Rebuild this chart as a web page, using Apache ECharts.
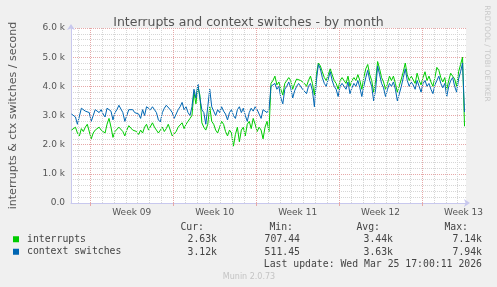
<!DOCTYPE html>
<html><head><meta charset="utf-8">
<script src="https://cdn.jsdelivr.net/npm/echarts@6/dist/echarts.min.js"></script>
<style>html,body{margin:0;padding:0;background:#f0f0f0;}#c{width:497px;height:287px;}</style>
</head><body><div id="c"></div>
<script>
const titleText = 'Interrupts and context switches - by month';
const yAxisName = 'interrupts & ctx switches / second';
const seriesNames = ['interrupts', 'context switches'];
const seriesColors = ['#00cc00', '#0066b3'];
const weekLabels = ['Week 09', 'Week 10', 'Week 11', 'Week 12', 'Week 13'];
const weekLabelHours = [84, 252, 420, 588, 756];
const weekStartHours = [0, 168, 336, 504, 672];
const startHour = -38, stepHours = 4;
const xMin = -39, xMax = 761;

const interruptsK = [
  2.5, 2.45, 2.6, 2.4, 2.3, 2.55,
  2.45, 2.6, 2.7, 2.65, 2.2, 2.4,
  2.5, 2.45, 2.6, 2.5, 2.55, 2.4,
  2.7, 2.9, 2.6, 2.25, 2.45, 2.5,
  2.6, 2.55, 2.45, 2.3, 2.5, 2.65,
  2.6, 2.5, 2.55, 2.45, 2.35, 2.5,
  2.4, 2.6, 2.7, 2.5, 2.55, 2.75,
  2.6, 2.5, 2.4, 2.5, 2.6, 2.45,
  2.55, 2.7, 2.5, 2.3, 2.25, 2.45,
  2.6, 2.65, 2.75, 2.55, 2.7, 2.8,
  2.9, 3.0, 3.8, 3.4, 4.0, 3.7,
  2.75, 2.6, 2.5, 2.7, 3.3, 2.8,
  2.7, 2.5, 2.4, 2.6, 2.8, 2.7,
  2.45, 2.3, 2.5, 2.4, 1.95, 2.35,
  2.6, 2.1, 2.5, 2.6, 2.3, 2.7,
  2.8, 2.55, 2.9, 2.7, 2.45, 2.6,
  2.5, 2.2, 2.6, 2.8, 2.45, 4.1,
  4.2, 4.35, 4.05, 4.15, 3.9, 3.7,
  4.1, 4.2, 4.3, 4.2, 3.9, 4.1,
  4.25, 4.3, 4.2, 4.15, 4.1, 4.0,
  4.2, 4.35, 4.1, 3.7, 4.4, 4.8,
  4.7, 4.5, 4.3, 4.2, 4.4, 4.6,
  4.4, 4.2, 4.1, 3.9, 4.2, 4.3,
  4.2, 4.1, 4.35, 4.0, 4.2, 4.3,
  4.2, 4.4, 4.2, 3.9, 4.3, 4.6,
  4.75, 4.4, 4.2, 3.8, 4.2, 4.85,
  4.6, 4.3, 4.15, 3.9, 4.1, 4.35,
  4.2, 4.35, 4.1, 3.8, 3.8, 4.25,
  4.5, 4.8, 4.4, 4.2, 4.35, 4.3,
  4.1, 4.45, 4.2, 4.05, 4.3, 4.5,
  4.2, 4.35, 4.15, 4.0, 4.3, 4.65,
  4.55, 4.3, 4.15, 4.3, 3.9, 4.2,
  4.45, 4.5, 4.25, 4.0, 4.5, 4.75,
  5.0, 2.63
];
const ctxSwitchesK = [
  3.05, 3.0, 2.95, 2.7, 2.75, 3.25,
  3.3, 3.15, 3.2, 3.1, 2.8, 3.0,
  3.2, 3.15, 3.1, 3.2, 3.05, 2.95,
  3.25, 3.3, 3.15, 2.85, 3.1, 3.2,
  3.35, 3.4, 3.1, 2.8, 3.0, 3.2,
  3.15, 3.2, 3.1, 3.15, 3.05, 2.9,
  3.2, 3.0, 3.3, 3.25, 3.2, 3.3,
  3.2, 3.1, 2.85, 2.78, 3.1, 3.25,
  3.35, 3.3, 3.2, 3.1, 2.9, 3.05,
  3.2, 3.3, 3.45, 3.2, 3.3, 3.1,
  3.0, 3.3, 3.9, 3.6, 4.08, 3.6,
  3.2, 3.1, 2.7, 3.3, 3.9, 3.3,
  3.15, 3.0, 3.2, 3.1, 3.3, 3.15,
  3.05, 2.85, 3.1, 3.2, 3.0, 2.9,
  3.2, 3.3, 3.1, 3.25, 3.0, 2.8,
  3.1, 3.25, 3.15, 3.3, 3.2, 3.05,
  2.9, 3.2, 3.25, 3.1, 3.2, 4.0,
  3.95, 4.1, 3.9, 4.0, 3.6, 3.4,
  3.9, 4.0, 4.15, 3.95, 3.6, 3.85,
  4.0, 4.1, 4.05, 3.9, 3.85, 3.75,
  4.0, 4.1, 3.85, 3.3, 4.2, 4.75,
  4.6, 4.3, 4.1, 4.0, 4.25, 4.5,
  4.2, 4.0, 3.9, 3.65, 4.0, 4.1,
  4.05, 3.9, 4.15, 3.75, 3.95, 4.1,
  4.0, 4.2, 3.95, 3.65, 4.0, 4.3,
  4.55, 4.2, 4.0, 3.5, 3.9, 4.7,
  4.4, 4.1, 3.95, 3.65, 3.9, 4.1,
  4.0, 4.15, 3.9, 3.5, 3.45, 4.0,
  4.3, 4.6, 4.2, 4.0, 4.15, 4.05,
  3.9, 4.2, 4.0, 3.8, 4.1, 4.2,
  4.0, 4.1, 3.9, 3.75, 4.05, 4.2,
  4.35, 4.1, 3.95, 4.1, 3.65, 4.0,
  4.2, 4.3, 4.0, 3.8, 4.25, 4.5,
  4.8, 3.12
];

const statHeaders = ['Cur:', 'Min:', 'Avg:', 'Max:'];
const interruptsStats = ['2.63k', '707.44', '3.44k', '7.14k'];
const ctxSwitchesStats = ['3.12k', '511.45', '3.63k', '7.94k'];
const lastUpdate = 'Last update: Wed Mar 25 17:00:11 2026';
const footerText = 'Munin 2.0.73';
const watermarkText = 'RRDTOOL / TOBI OETIKER';

const toData = arr => arr.map((v, i) => [startHour + i * stepHours, v * 1000]);

const minorDays = [], majorDays = [];
for (let h = -24; h <= xMax; h += 24) {
  if (h < xMin) continue;
  (h % 168 === 0 ? majorDays : minorDays).push({ xAxis: h });
}

const mono = 'DejaVu Sans Mono';
const headerX = [204, 293, 380, 468];
const valueX = [217, 300, 393, 482];
const txt = (t, x, y, align) => ({ type: 'text', x: x, y: y, style: { text: t, font: '9.8px "' + mono + '"', fill: '#444', align: align, verticalAlign: 'middle' } });
const graphics = [];
statHeaders.forEach((t, k) => graphics.push(txt(t, headerX[k], 227, 'right')));
interruptsStats.forEach((t, k) => graphics.push(txt(t, valueX[k], 239.5, 'right')));
ctxSwitchesStats.forEach((t, k) => graphics.push(txt(t, valueX[k], 252, 'right')));
graphics.push(txt(lastUpdate, 482, 264.5, 'right'));
graphics.push({ type: 'text', x: 249, y: 277, style: { text: footerText, font: '8px "DejaVu Sans"', fill: '#c4c4c4', align: 'center', verticalAlign: 'middle' } });
graphics.push({ type: 'text', x: 487, y: 53.5, rotation: -Math.PI / 2, style: { text: watermarkText, font: '7.5px "DejaVu Sans"', fill: '#c8c8c8', align: 'center', verticalAlign: 'middle' } });

const gridSeries = (name, data, color) => ({
  type: 'line', name: name, data: [], z: 1, silent: true,
  markLine: { silent: true, symbol: ['none', 'none'], label: { show: false }, animation: false,
    lineStyle: { color: color, type: [1, 1], width: 1 }, emphasis: { disabled: true }, data: data }
});

const chart = echarts.init(document.getElementById('c'), null, { renderer: 'canvas' });
chart.setOption({
  animation: false,
  backgroundColor: '#f0f0f0',
  title: {
    text: titleText, left: 'center', top: 11,
    textStyle: { fontFamily: 'DejaVu Sans', fontSize: 12.5, fontWeight: 'normal', color: '#555' }
  },
  legend: {
    orient: 'vertical', left: 13, top: 233, padding: 0, itemWidth: 6, itemHeight: 6, itemGap: 0, icon: 'rect',
    textStyle: { fontFamily: mono, fontSize: 9.8, color: '#444', lineHeight: 12.5, padding: [0, 0, 0, 3] },
    data: seriesNames
  },
  grid: { left: 66, right: 31, top: 28, bottom: 84, show: true, backgroundColor: '#ffffff', borderWidth: 0 },
  xAxis: {
    type: 'value', min: xMin, max: xMax,
    axisLine: { show: true, onZero: false, lineStyle: { color: '#c8c8ee', width: 1 }, symbol: ['none', 'arrow'], symbolSize: [6, 6], symbolOffset: [0, 4] },
    axisTick: { show: true, customValues: weekStartHours, length: 3, lineStyle: { color: '#e6a8a8' } },
    axisLabel: {
      customValues: weekLabelHours, margin: 5,
      formatter: v => weekLabels[weekLabelHours.indexOf(v)] || '',
      fontFamily: 'DejaVu Sans', fontSize: 9, color: '#555'
    },
    splitLine: { show: false }
  },
  yAxis: {
    type: 'value', min: 0, max: 6000, interval: 1000,
    name: yAxisName, nameLocation: 'middle', nameGap: 52,
    nameTextStyle: { fontFamily: 'DejaVu Sans', fontSize: 11, color: '#555' },
    axisLine: { show: true, onZero: false, lineStyle: { color: '#c8c8ee', width: 1 }, symbol: ['none', 'arrow'], symbolSize: [6, 6], symbolOffset: [0, 4] },
    axisTick: { show: false },
    axisLabel: {
      formatter: v => v === 0 ? '0.0' : (v / 1000).toFixed(1) + ' k',
      fontFamily: 'DejaVu Sans', fontSize: 9, color: '#555', margin: 6
    },
    splitLine: { show: true, lineStyle: { color: '#e6a8a8', type: [1, 1], width: 1 } },
    minorTick: { show: false, splitNumber: 5 },
    minorSplitLine: { show: true, lineStyle: { color: '#d6d6d6', type: [1, 1], width: 1 } }
  },
  graphic: graphics,
  series: [
    gridSeries('_minor', minorDays, '#d6d6d6'),
    gridSeries('_major', majorDays, '#e6a8a8'),
    {
      type: 'line', name: seriesNames[0], data: toData(interruptsK), z: 3,
      showSymbol: false, symbol: 'none', lineStyle: { width: 1, color: seriesColors[0] }, itemStyle: { color: seriesColors[0] }
    },
    {
      type: 'line', name: seriesNames[1], data: toData(ctxSwitchesK), z: 4,
      showSymbol: false, symbol: 'none', lineStyle: { width: 1, color: seriesColors[1] }, itemStyle: { color: seriesColors[1] }
    }
  ]
});
</script></body></html>
